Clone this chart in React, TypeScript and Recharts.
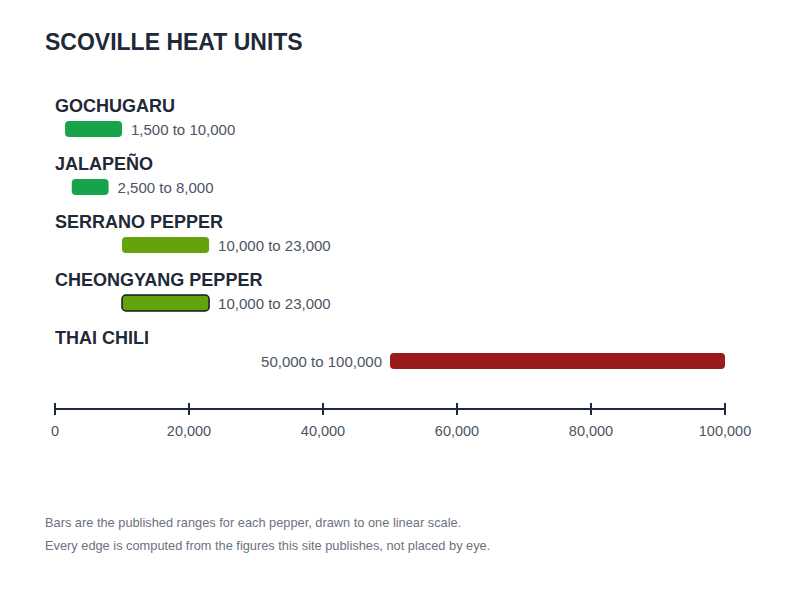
import { Bar, BarChart, Cell, XAxis, YAxis } from "recharts";

const peppers = ["GOCHUGARU", "JALAPEÑO", "SERRANO PEPPER", "CHEONGYANG PEPPER", "THAI CHILI"];
const lowShu = [1500, 2500, 10000, 10000, 50000];
const highShu = [10000, 8000, 23000, 23000, 100000];
const axisTicks = [0, 20000, 40000, 60000, 80000, 100000];
const highlighted = "CHEONGYANG PEPPER";

const FONT = "'Liberation Sans', Arial, Helvetica, sans-serif";
const LEFT = 55;
const RIGHT = 725;

const fmt = (v: number) => v.toLocaleString("en-US");

function barColor(high: number) {
  if (high >= 50000) return "#991b1b";
  if (high > 10000) return "#65a30d";
  return "#16a34a";
}

const data = peppers.map((name, i) => ({
  name,
  range: [lowShu[i], highShu[i]],
}));

function PepperBar(props: any) {
  const { x, y, width, height, payload, fill } = props;
  const [lo, hi] = payload.range;
  const label = `${fmt(lo)} to ${fmt(hi)}`;
  const cy = y + height / 2;
  // bars that run to the right edge get their label on the left
  const nearEnd = x + width > RIGHT - 120;
  const isHi = payload.name === highlighted;
  return (
    <g>
      <text x={LEFT} y={y - 9} fontFamily={FONT} fontSize={18} fontWeight="bold" fill="#1f2937">
        {payload.name}
      </text>
      <rect
        x={x}
        y={y}
        width={width}
        height={height}
        rx={4}
        ry={4}
        fill={fill}
        stroke={isHi ? "#111827" : "none"}
        strokeWidth={isHi ? 1.5 : 0}
      />
      <text
        x={nearEnd ? x - 8 : x + width + 9}
        y={cy + 6}
        textAnchor={nearEnd ? "end" : "start"}
        fontFamily={FONT}
        fontSize={15}
        fill="#4b5563"
      >
        {label}
      </text>
    </g>
  );
}

function AxisTick(props: any) {
  const { x, y, payload } = props;
  return (
    <g>
      <line x1={x} x2={x} y1={y - 6} y2={y + 6} stroke="#1e293b" strokeWidth={2} />
      <text x={x} y={y + 27} textAnchor="middle" fontFamily={FONT} fontSize={14.5} fill="#4b5563">
        {fmt(payload.value)}
      </text>
    </g>
  );
}

export default function App() {
  return (
    <div style={{ position: "absolute", left: 0, top: 0, width: 800, height: 600, background: "#fff" }}>
      <svg width={800} height={600} style={{ position: "absolute", left: 0, top: 0 }}>
        <text x={45} y={50} fontFamily={FONT} fontSize={23} fontWeight="bold" fill="#1f2937">
          SCOVILLE HEAT UNITS
        </text>
        <text x={45} y={527} fontFamily={FONT} fontSize={12.8} fill="#6b7280">
          Bars are the published ranges for each pepper, drawn to one linear scale.
        </text>
        <text x={45} y={550} fontFamily={FONT} fontSize={12.8} fill="#6b7280">
          Every edge is computed from the figures this site publishes, not placed by eye.
        </text>
      </svg>
      <div style={{ position: "absolute", left: 0, top: 0 }}>
        <BarChart
          width={800}
          height={600}
          data={data}
          layout="vertical"
          margin={{ top: 100, right: 800 - RIGHT, bottom: 161, left: LEFT }}
        >
          <XAxis
            type="number"
            domain={[0, 100000]}
            ticks={axisTicks}
            height={30}
            tickSize={0}
            tickMargin={0}
            tickLine={false}
            axisLine={{ stroke: "#1e293b", strokeWidth: 2 }}
            tick={<AxisTick />}
            interval={0}
          />
          <YAxis type="category" dataKey="name" hide padding={{ top: 0, bottom: 19 }} />
          <Bar dataKey="range" barSize={16} shape={<PepperBar />} isAnimationActive={false}>
            {data.map((d) => (
              <Cell key={d.name} fill={barColor(d.range[1])} />
            ))}
          </Bar>
        </BarChart>
      </div>
    </div>
  );
}
